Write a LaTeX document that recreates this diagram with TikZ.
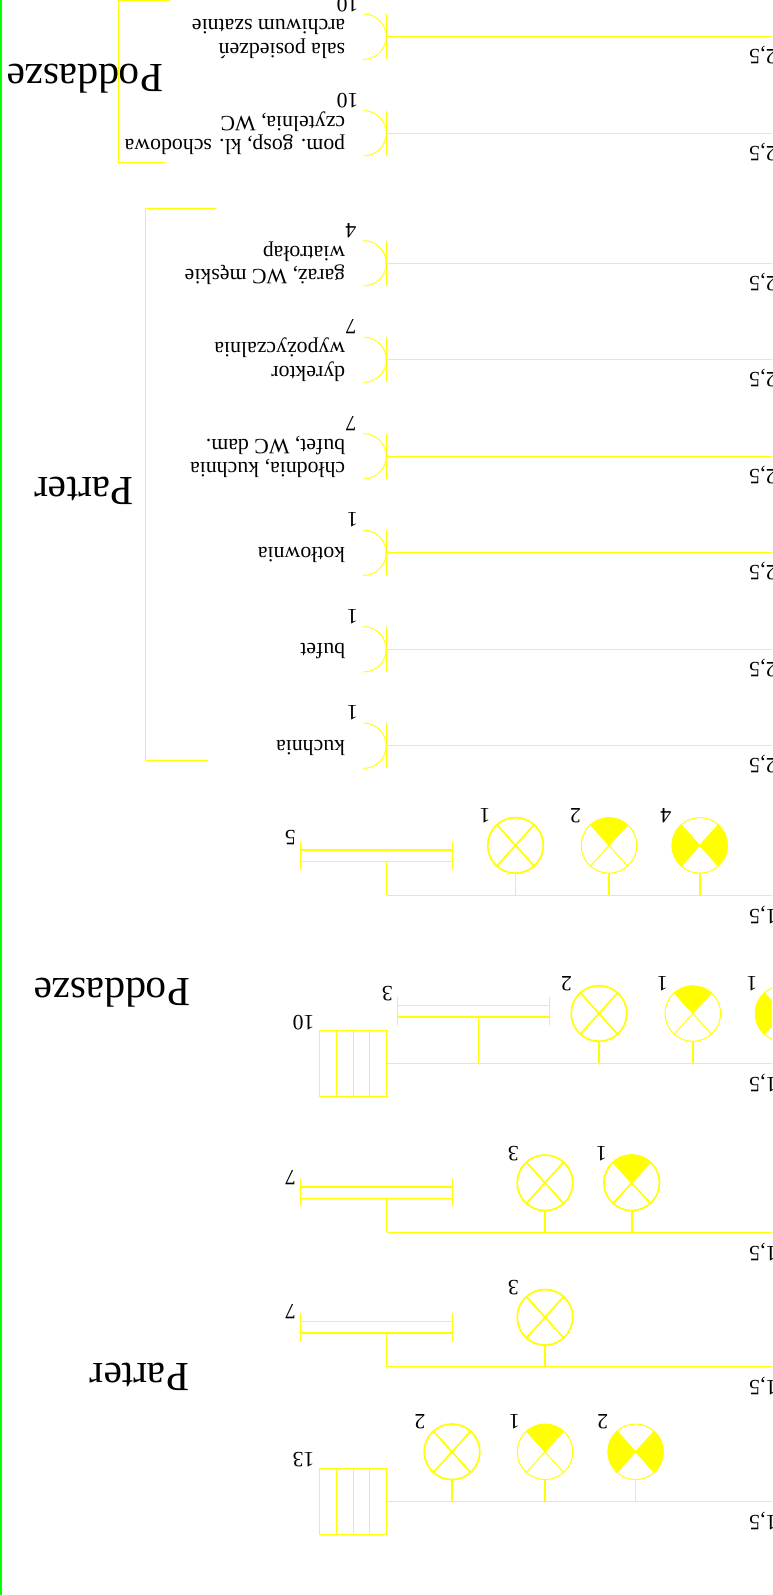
\documentclass[tikz,border=0pt]{standalone}
\usepackage{fontspec}
\setmainfont{Liberation Serif}
\definecolor{ylw}{RGB}{255,255,0}
\definecolor{grn}{RGB}{0,255,0}
\tikzset{
  wire/.style={draw=ylw,line width=1.2pt},
  thinwire/.style={draw=ylw,line width=0.9pt},
  txt/.style={rotate=180,inner sep=0pt,outer sep=0pt,font=\fontsize{21.8}{24}\selectfont,text=black},
  title/.style={rotate=180,inner sep=0pt,outer sep=0pt,font=\fontsize{41.4}{44}\selectfont,text=black,anchor=base west},
  lampshape/.style={circle,draw=ylw,minimum size=55.6pt,inner sep=0pt,outer sep=0pt},
}
\newcommand\socketfeed[7]{%
  \coordinate (#1) at (386.5,-#2);
  \coordinate (#1e) at (780,-#2);
  \draw[wire] (#1) -- (#1e);
  \draw[thinwire] (386.5,{-#2+22.7}) -- (386.5,{-#2-22.7});
  \draw[thinwire] (363.5,{-#2+22.7}) arc[start angle=90,end angle=-90,radius=22.7pt];
  \node[txt,anchor=base west] (#1a) at (345.2,{-#2-6.6}) {#3};
  \node[txt,anchor=base west] (#1b) at (345.2,{-#2+17.2}) {#4};
  \node[txt,anchor=center] (#1n) at (#7,-#6) {#5};
  \node[txt,anchor=base west] (#1v) at (776.5,{-#2-13}) {2,5};
}
\newcommand\singlefeed[5]{%
  \coordinate (#1) at (386.5,-#2);
  \coordinate (#1e) at (780,-#2);
  \draw[wire] (#1) -- (#1e);
  \draw[thinwire] (386.5,{-#2+22.7}) -- (386.5,{-#2-22.7});
  \draw[thinwire] (363.5,{-#2+22.7}) arc[start angle=90,end angle=-90,radius=22.7pt];
  \node[txt,anchor=base west] (#1a) at (345.2,{-#2+5.6}) {#3};
  \node[txt,anchor=center] (#1n) at (352.5,-#5) {#4};
  \node[txt,anchor=base west] (#1v) at (776.5,{-#2-13}) {2,5};
}
\newcommand\busline[3]{%
  \coordinate (#1) at (#3,-#2);
  \coordinate (#1e) at (780,-#2);
  \draw[wire] (#1) -- (#1e);
  \node[txt,anchor=base west] (#1v) at (776.5,{-#2-14}) {1,5};
}
\newcommand\lamp[9]{%
  \node[lampshape,line width=#6] (#1) at (#2,-#3) {};
  \ifnum#5=1
    \fill[ylw] (#1.center) -- (#1.48) arc[start angle=48,end angle=132,radius=27.8pt] -- cycle;
  \fi
  \ifnum#5=2
    \fill[ylw] (#1.center) -- (#1.132) arc[start angle=132,end angle=228,radius=27.8pt] -- cycle;
    \fill[ylw] (#1.center) -- (#1.-48) arc[start angle=-48,end angle=48,radius=27.8pt] -- cycle;
  \fi
  \draw[draw=ylw,line width=#6] (#1.48) -- (#1.228);
  \draw[draw=ylw,line width=#6] (#1.132) -- (#1.-48);
  \draw[draw=ylw,line width=1.6pt] (#1.south) -- (#1.south |- #4);
  \node[txt,anchor=center] (#1n) at (#7,-#8) {#9};
}
\newcommand\tube[9]{%
  \coordinate (#1l) at (#2,-#5);
  \coordinate (#1r) at (#3,-#5);
  \coordinate (#1s) at (#6,-#5);
  \draw[wire] (#2,-#4) -- (#3,-#4);
  \draw[wire] (#1l) -- (#1r);
  \draw[thinwire] (#2,{-#4+8.4}) -- (#2,{-#5-8});
  \draw[thinwire] (#3,{-#4+8.4}) -- (#3,{-#5-8});
  \draw[wire] (#1s) -- (#1s |- #7);
  \node[txt,anchor=center] (#1n) at (#8,{-#4+#9}) {\tubenum};
}
\newcommand\panel[5]{%
  \coordinate (#1) at (386.5,-#2);
  \draw[draw=ylw,line width=1pt] (319.5,{-#2+33.3}) rectangle (386.5,{-#2-33.3});
  \draw[thinwire] (336.3,{-#2+33.3}) -- (336.3,{-#2-33.3});
  \draw[thinwire] (353.5,{-#2+33.3}) -- (353.5,{-#2-33.3});
  \draw[thinwire] (369.8,{-#2+33.3}) -- (369.8,{-#2-33.3});
  \node[txt,anchor=center] (#1n) at (#3,-#4) {#5};
}
\begin{document}
\begin{tikzpicture}[x=1pt,y=1pt]
\path[use as bounding box,clip] (0,0) rectangle (772,-1595);
\fill[white] (0,0) rectangle (772,-1595);
\fill[grn] (0,0) rectangle (1.7,-1595);

\coordinate (podA) at (170,-0.2);
\coordinate (podB) at (118.7,-0.2);
\coordinate (podC) at (118.7,-162.3);
\coordinate (podD) at (165,-162.3);
\draw[wire] (podA) -- (podB) -- (podC) -- (podD);
\coordinate (parA) at (215.7,-208.3);
\coordinate (parB) at (145.7,-208.3);
\coordinate (parC) at (145.7,-760.3);
\coordinate (parD) at (207.8,-760.3);
\draw[wire] (parA) -- (parB) -- (parC) -- (parD);

\node[title] (t1) at (163,-65) {Poddasze};
\node[title] (t2) at (133.5,-477.3) {Parter};
\node[title] (t3) at (190,-978.3) {Poddasze};
\node[title] (t4) at (189,-1363.5) {Parter};

\socketfeed{sa}{36.7}{sala posiedzeń}{archiwum szatnie}{10}{5}{347.5}
\socketfeed{sb}{133.3}{pom. gosp, kl. schodowa}{czytelnia, WC}{10}{100.5}{347.5}
\socketfeed{sc}{263.3}{garaż, WC męskie}{wiatrołap}{4}{230.7}{351}
\socketfeed{sd}{359.7}{dyrektor}{wypożyczalnia}{7}{327}{351}
\socketfeed{se}{456.3}{chłodnia, kuchnia}{bufet, WC dam.}{7}{424}{351}
\singlefeed{sf}{552.7}{kotłownia}{1}{520}
\singlefeed{sg}{649.3}{bufet}{1}{616.7}
\singlefeed{sh}{745.7}{kuchnia}{1}{713}

\busline{ba}{895.3}{386.5}
\lamp{la1}{515.5}{845.4}{ba}{0}{1.7pt}{485}{815.7}{1}
\lamp{la2}{609}{845.4}{ba}{1}{1pt}{575.5}{815.7}{2}
\lamp{la3}{699.7}{845.4}{ba}{2}{1pt}{666}{815.7}{4}
\def\tubenum{5}
\tube{ta}{300.3}{452}{850}{861.3}{386.5}{ba}{290.5}{12}

\busline{bb}{1063.3}{386.5}
\panel{pb}{1063.3}{303.5}{1022.3}{10}
\lamp{lb1}{599}{1013.5}{bb}{0}{1.7pt}{566.5}{984}{2}
\lamp{lb2}{692.8}{1013.5}{bb}{1}{1pt}{662.5}{984}{1}
\lamp{lb3}{783}{1013.5}{bb}{2}{1pt}{752}{984}{1}
\def\tubenum{3}
\tube{tb}{397}{549.5}{1005.7}{1017}{478.6}{bb}{387.5}{11.7}

\busline{bc}{1232.3}{386.5}
\lamp{lc1}{545}{1182.8}{bc}{0}{1.7pt}{513.5}{1153.3}{3}
\lamp{lc2}{631.7}{1182.8}{bc}{1}{1.7pt}{601.5}{1153.3}{1}
\def\tubenum{7}
\tube{tc}{300.3}{452}{1187}{1198.3}{386.5}{bc}{290.5}{9.5}

\busline{bd}{1366.7}{386.5}
\lamp{ld1}{545}{1317.3}{bd}{0}{1.7pt}{513.5}{1287.7}{3}
\def\tubenum{7}
\tube{td}{300.3}{452}{1321.7}{1333}{386.5}{bd}{290.5}{10.5}

\busline{be}{1501.3}{386.5}
\panel{pe}{1501.3}{303.5}{1460}{13}
\lamp{le1}{452}{1451.8}{be}{0}{1.7pt}{420}{1421.7}{2}
\lamp{le2}{545}{1451.8}{be}{1}{1pt}{514.5}{1421.7}{1}
\lamp{le3}{635.6}{1451.8}{be}{2}{1pt}{602.7}{1421.7}{2}
\end{tikzpicture}
\end{document}
